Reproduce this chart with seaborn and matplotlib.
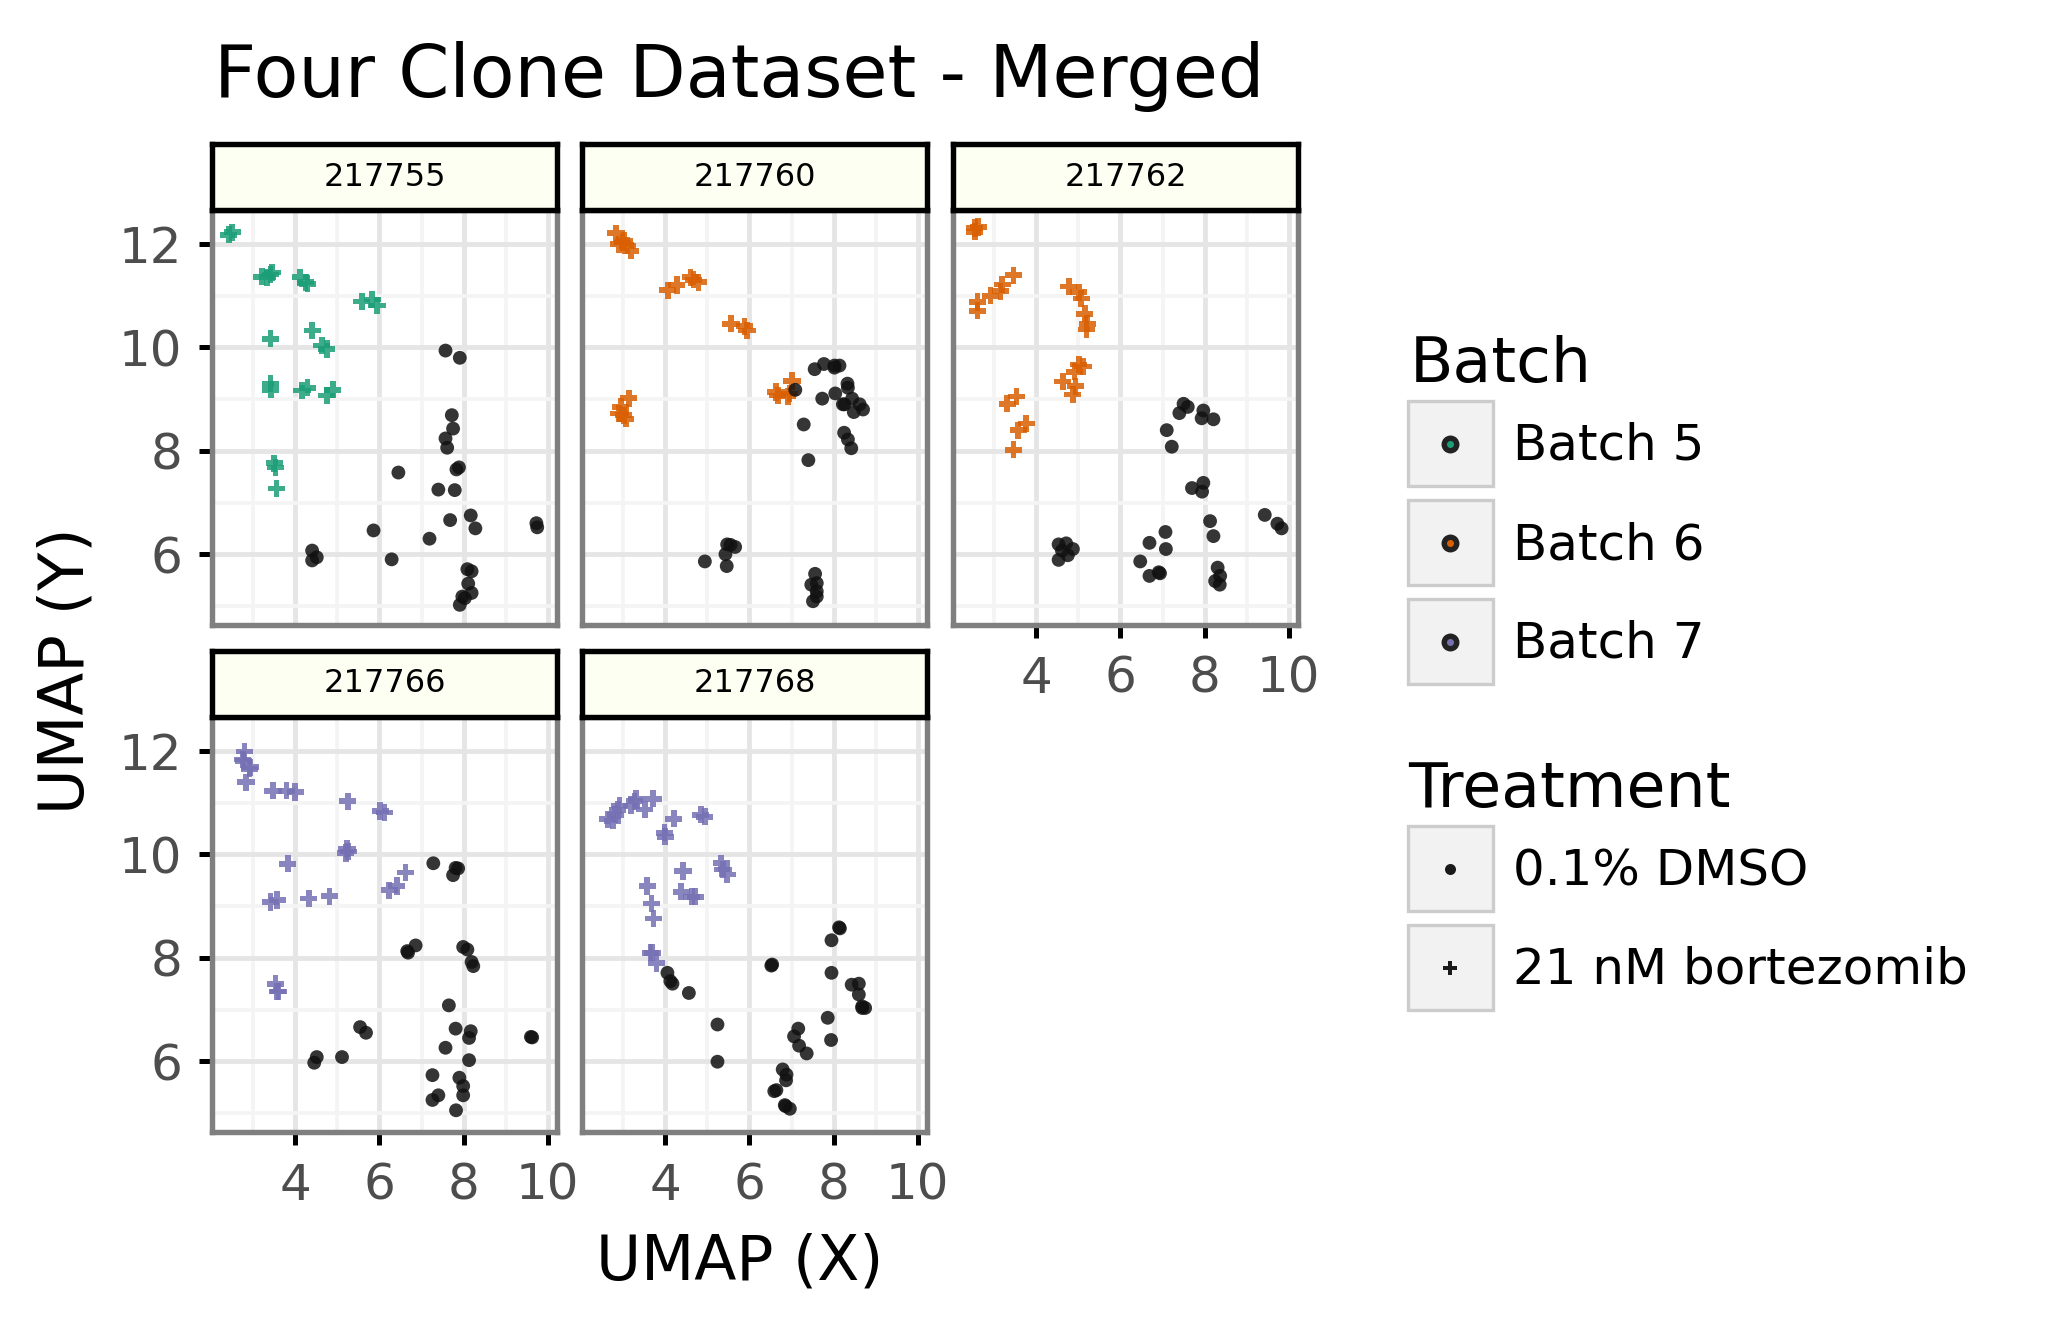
import numpy as np
import pandas as pd
import matplotlib
matplotlib.use('Agg')
import matplotlib.pyplot as plt
from matplotlib.patches import Rectangle
from matplotlib.ticker import MultipleLocator
import seaborn as sns

# clones, and which batch each one was run in
clones = ['217755', '217760', '217762', '217766', '217768']
clone_batch = ['Batch 5', 'Batch 6', 'Batch 6', 'Batch 7', 'Batch 7']
batches = ['Batch 5', 'Batch 6', 'Batch 7']
batch_colors = ['#1B9E77', '#D95F02', '#7570B3']
treatments = ['0.1% DMSO', '21 nM bortezomib']

# UMAP coords, bortezomib (btz) and DMSO (dmso) per clone
btz_x_217755 = [2.42, 2.50, 3.21, 3.33, 3.45, 3.41, 4.12, 4.24, 4.29, 5.58, 5.83, 5.94, 3.41,
                4.40, 4.63, 4.75, 3.41, 3.42, 4.16, 4.29, 4.75, 4.89, 3.50, 3.53, 3.55]
btz_y_217755 = [12.18, 12.23, 11.37, 11.36, 11.45, 11.41, 11.36, 11.26, 11.23, 10.89, 10.93, 10.81, 10.17,
                10.33, 10.04, 9.97, 9.30, 9.18, 9.17, 9.22, 9.07, 9.18, 7.76, 7.68, 7.27]
dmso_x_217755 = [7.57, 7.91, 7.72, 7.75, 7.57, 7.61, 7.83, 7.89, 6.45, 7.40, 7.79, 8.17, 7.68, 8.28, 9.73,
                 9.75, 5.86, 7.19, 4.40, 4.40, 4.51, 6.29, 8.09, 8.19, 8.11, 8.19, 7.97, 8.03, 7.91]
dmso_y_217755 = [9.94, 9.80, 8.69, 8.43, 8.24, 8.06, 7.64, 7.68, 7.58, 7.25, 7.24, 6.75, 6.66, 6.50, 6.60,
                 6.52, 6.46, 6.30, 6.07, 5.88, 5.94, 5.90, 5.71, 5.67, 5.43, 5.25, 5.18, 5.15, 5.02]

btz_x_217760 = [2.83, 2.90, 3.02, 3.10, 3.18, 2.98, 4.06, 4.27, 4.60, 4.67, 4.79, 5.56, 5.88, 5.94,
                7.01, 6.63, 6.67, 6.91, 6.95, 3.13, 2.94, 2.90, 3.01, 3.06]
btz_y_217760 = [12.21, 12.00, 12.06, 11.97, 11.87, 12.03, 11.11, 11.21, 11.36, 11.31, 11.26, 10.46, 10.41, 10.33,
                9.35, 9.14, 9.07, 9.05, 9.11, 9.02, 8.85, 8.72, 8.69, 8.62]
dmso_x_217760 = [7.55, 7.77, 8.02, 8.14, 8.02, 8.33, 8.34, 7.09, 8.04, 7.73, 8.44, 8.22, 8.26, 8.62, 8.70,
                 8.48, 7.29, 8.25, 8.34, 8.42, 7.40, 5.47, 5.55, 5.66, 5.43, 4.94, 5.46, 7.56, 7.47, 7.60,
                 7.60, 7.60, 7.51]
dmso_y_217760 = [9.58, 9.68, 9.65, 9.65, 9.61, 9.30, 9.22, 9.18, 9.11, 9.01, 9.01, 8.90, 8.90, 8.90, 8.80,
                 8.75, 8.51, 8.35, 8.22, 8.05, 7.82, 6.19, 6.18, 6.14, 6.00, 5.86, 5.77, 5.62, 5.41, 5.44,
                 5.28, 5.18, 5.09]

btz_x_217762 = [2.54, 2.62, 2.54, 2.60, 2.60, 2.91, 3.15, 3.19, 3.46, 4.77, 5.01, 5.07, 5.15, 5.21, 5.19,
                5.01, 5.11, 4.91, 4.63, 4.93, 4.87, 3.53, 3.31, 3.76, 3.57, 3.46]
btz_y_217762 = [12.31, 12.33, 12.24, 10.88, 10.71, 11.00, 11.09, 11.22, 11.40, 11.18, 11.07, 10.95, 10.65, 10.46, 10.35,
                9.67, 9.63, 9.53, 9.34, 9.25, 9.09, 9.05, 8.91, 8.53, 8.40, 8.02]
dmso_x_217762 = [7.50, 7.60, 7.40, 7.97, 7.93, 8.21, 7.10, 7.22, 7.97, 7.70, 7.94, 9.43, 9.73, 9.83, 8.13,
                 8.21, 7.07, 6.69, 7.08, 6.47, 6.69, 6.91, 6.94, 8.31, 8.37, 8.25, 8.36, 4.53, 4.71, 4.87,
                 4.61, 4.75, 4.53]
dmso_y_217762 = [8.91, 8.85, 8.73, 8.78, 8.63, 8.61, 8.40, 8.08, 7.38, 7.28, 7.21, 6.76, 6.59, 6.50, 6.64,
                 6.35, 6.43, 6.22, 6.10, 5.86, 5.58, 5.65, 5.63, 5.74, 5.58, 5.48, 5.41, 6.19, 6.21, 6.10,
                 6.07, 5.98, 5.89]

btz_x_217766 = [2.79, 2.75, 2.77, 2.93, 2.91, 2.83, 3.47, 3.79, 4.00, 5.25, 6.02, 6.12, 5.23, 5.26, 5.20,
                3.82, 6.62, 6.41, 6.23, 3.57, 3.41, 4.32, 4.81, 3.53, 3.57, 3.60]
btz_y_217766 = [11.99, 11.84, 11.81, 11.69, 11.66, 11.40, 11.23, 11.23, 11.21, 11.03, 10.84, 10.81, 10.11, 10.06, 10.03,
                9.82, 9.65, 9.39, 9.31, 9.12, 9.08, 9.15, 9.19, 7.50, 7.35, 7.35]
dmso_x_217766 = [7.28, 7.81, 7.87, 7.75, 6.86, 6.66, 6.68, 7.99, 8.09, 8.19, 8.23, 7.65, 5.54, 5.68, 7.81,
                 8.17, 8.13, 9.60, 9.63, 7.57, 4.51, 4.45, 5.11, 8.13, 7.26, 7.90, 7.99, 7.99, 7.40, 7.26, 7.82]
dmso_y_217766 = [9.83, 9.74, 9.73, 9.60, 8.24, 8.13, 8.10, 8.21, 8.16, 7.92, 7.84, 7.08, 6.66, 6.55, 6.63,
                 6.58, 6.45, 6.47, 6.46, 6.26, 6.08, 5.97, 6.08, 6.02, 5.73, 5.68, 5.52, 5.34, 5.34, 5.25, 5.05]

btz_x_217768 = [2.63, 2.75, 2.81, 2.87, 2.91, 3.19, 3.27, 3.31, 3.51, 3.71, 4.20, 4.84, 4.94, 3.98, 4.00,
                4.42, 5.33, 5.37, 5.47, 3.57, 4.38, 4.63, 4.71, 3.67, 3.72, 3.65, 3.69, 3.79]
btz_y_217768 = [10.68, 10.65, 10.77, 10.86, 10.95, 10.94, 11.03, 11.08, 10.87, 11.08, 10.69, 10.77, 10.73, 10.42, 10.34,
                9.68, 9.83, 9.71, 9.61, 9.39, 9.28, 9.18, 9.18, 9.05, 8.76, 8.10, 8.10, 7.90]
dmso_x_217768 = [8.13, 8.15, 7.95, 6.54, 6.52, 7.95, 4.05, 4.12, 4.17, 4.56, 8.43, 8.60, 8.60, 8.68, 8.75,
                 8.68, 7.86, 5.24, 7.16, 7.06, 7.94, 7.18, 7.36, 5.24, 6.79, 6.88, 6.87, 6.59, 6.64, 6.84,
                 6.96, 6.86]
dmso_y_217768 = [8.59, 8.57, 8.34, 7.87, 7.85, 7.71, 7.71, 7.55, 7.50, 7.32, 7.48, 7.50, 7.29, 7.06, 7.03,
                 7.03, 6.84, 6.71, 6.63, 6.48, 6.41, 6.30, 6.15, 5.99, 5.84, 5.74, 5.63, 5.42, 5.44, 5.15,
                 5.08, 5.13]

btz_x = [btz_x_217755, btz_x_217760, btz_x_217762, btz_x_217766, btz_x_217768]
btz_y = [btz_y_217755, btz_y_217760, btz_y_217762, btz_y_217766, btz_y_217768]
dmso_x = [dmso_x_217755, dmso_x_217760, dmso_x_217762, dmso_x_217766, dmso_x_217768]
dmso_y = [dmso_y_217755, dmso_y_217760, dmso_y_217762, dmso_y_217766, dmso_y_217768]

# long table
rows = []
for i, clone in enumerate(clones):
    for x, y in zip(btz_x[i], btz_y[i]):
        rows.append((clone, clone_batch[i], treatments[1], x, y))
    for x, y in zip(dmso_x[i], dmso_y[i]):
        rows.append((clone, clone_batch[i], treatments[0], x, y))
df = pd.DataFrame(rows, columns=['clone', 'batch', 'treatment', 'x', 'y'])
# DMSO cells are drawn black, bortezomib in the batch colour
df['col'] = np.where(df['treatment'] == treatments[0], 'dmso', df['batch'])

pal = dict(zip(batches, batch_colors))
pal['dmso'] = '#111111'
mk = {treatments[0]: 'o', treatments[1]: 'P'}
sz = {treatments[0]: 11, treatments[1]: 17}

W, H = 2063, 1331
fig = plt.figure(figsize=(W / 300, H / 300), dpi=300)

def px(l, t, w, h):
    return [l / W, 1 - (t + h) / H, w / W, h / H]

panel_pos = [(212, 210), (582, 210), (953, 210), (212, 717), (582, 717)]
pw, ph, sh = 345, 415, 66

for i, clone in enumerate(clones):
    l, t = panel_pos[i]
    ax = fig.add_axes(px(l, t, pw, ph))
    sub = df[df['clone'] == clone]
    sns.scatterplot(data=sub, x='x', y='y', hue='col', style='treatment', size='treatment',
                    palette=pal, markers=mk, sizes=sz, alpha=0.85, linewidth=0,
                    legend=False, ax=ax)
    ax.set_xlim(2.02, 10.22)
    ax.set_ylim(4.63, 12.66)
    ax.xaxis.set_major_locator(MultipleLocator(2))
    ax.xaxis.set_minor_locator(MultipleLocator(1))
    ax.yaxis.set_major_locator(MultipleLocator(2))
    ax.yaxis.set_minor_locator(MultipleLocator(1))
    ax.set_axisbelow(True)
    ax.grid(which='major', color='#E5E5E5', lw=1.15)
    ax.grid(which='minor', color='#F4F4F4', lw=0.9)
    ax.tick_params(which='minor', length=0)
    ax.tick_params(which='major', length=3.1, width=1.2, color='black',
                   labelsize=12, labelcolor='#4D4D4D', pad=4.0)
    for sp in ax.spines.values():
        sp.set_color('#7F7F7F')
        sp.set_linewidth(1.3)
        sp.set_zorder(5)
    ax.set_xlabel('')
    ax.set_ylabel('')
    if l != 212:
        ax.tick_params(left=False, labelleft=False)
    if i in (0, 1):
        ax.tick_params(bottom=False, labelbottom=False)

    # facet strip
    sax = fig.add_axes(px(l, t - sh, pw, sh))
    sax.set_facecolor('#FDFFF3')
    sax.set_xticks([])
    sax.set_yticks([])
    for sp in sax.spines.values():
        sp.set_color('black')
        sp.set_linewidth(1.3)
    sax.text(0.5, 0.5, clone, ha='center', va='center', fontsize=7.7, transform=sax.transAxes)

# overlay in pixel coords for titles and the legend
lax = fig.add_axes([0, 0, 1, 1])
lax.set_xlim(0, W)
lax.set_ylim(H, 0)
lax.axis('off')
lax.patch.set_alpha(0)

lax.text(214, 97, 'Four Clone Dataset - Merged', fontsize=17.6, ha='left', va='baseline')
lax.text(67, 671, 'UMAP (Y)', fontsize=15, rotation=90, ha='center', va='center')
lax.text(740, 1280, 'UMAP (X)', fontsize=14.8, ha='center', va='baseline')

lax.text(1410, 382, 'Batch', fontsize=15.2, ha='left', va='baseline')
for i, (b, c) in enumerate(zip(batches, batch_colors)):
    top = 401 + i * 99
    lax.add_patch(Rectangle((1408, top), 85, 85, fc='#F2F2F2', ec='#CCCCCC', lw=0.8))
    lax.scatter([1450], [top + 43], s=9, c=c, edgecolors='#222222', linewidths=1.3, zorder=3)
    lax.text(1513, top + 59, b, fontsize=12, ha='left', va='baseline')

lax.text(1408, 807, 'Treatment', fontsize=15.2, ha='left', va='baseline')
tr_marks = ['o', 'P']
tr_size = [7, 11]
for i, tr in enumerate(treatments):
    top = 826 + i * 99
    lax.add_patch(Rectangle((1408, top), 85, 85, fc='#F2F2F2', ec='#CCCCCC', lw=0.8))
    lax.scatter([1450], [top + 43], s=tr_size[i], marker=tr_marks[i], c='#1A1A1A', linewidths=0, zorder=3)
    lax.text(1513, top + 59, tr, fontsize=12, ha='left', va='baseline')

fig.savefig('out.png', dpi=300)
